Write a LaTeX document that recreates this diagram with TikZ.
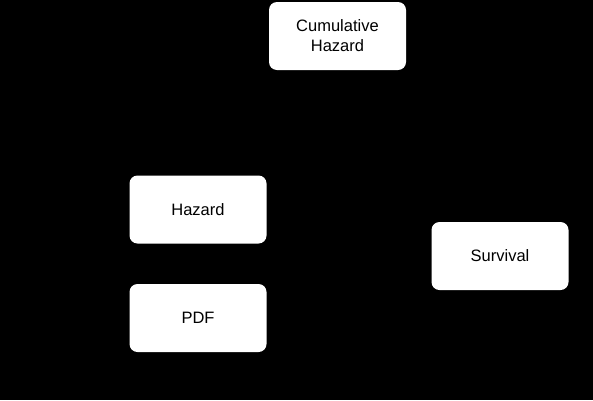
\documentclass[tikz,border=0pt]{standalone}
\usepackage{fontspec}
\setmainfont{Liberation Sans}
\usepackage{tikz}
\usetikzlibrary{positioning}

\begin{document}
\begin{tikzpicture}[
				x=1pt, y=-1pt,
				font=\fontsize{16.5}{20}\selectfont,
				box/.style={fill=white, rounded corners=8pt, align=center,
					inner sep=0pt, minimum width=137pt, minimum height=68pt}
				]
				%--- background ------------------------------------------------------------
				\fill[black] (0,0) rectangle (593,400);
				\useasboundingbox (0,0) rectangle (593,400);
				
				%--- quantities ------------------------------------------------------------
				\node[box] (cumhaz) at (337.5, 36)
				{Cumulative\\Hazard};
				\node[box] (hazard) at (198, 209.5) {Hazard};
				\node[box] (pdf) at (198, 318) {PDF};
				\node[box] (surv) at (500, 256) {Survival};
			\end{tikzpicture}
\end{document}
